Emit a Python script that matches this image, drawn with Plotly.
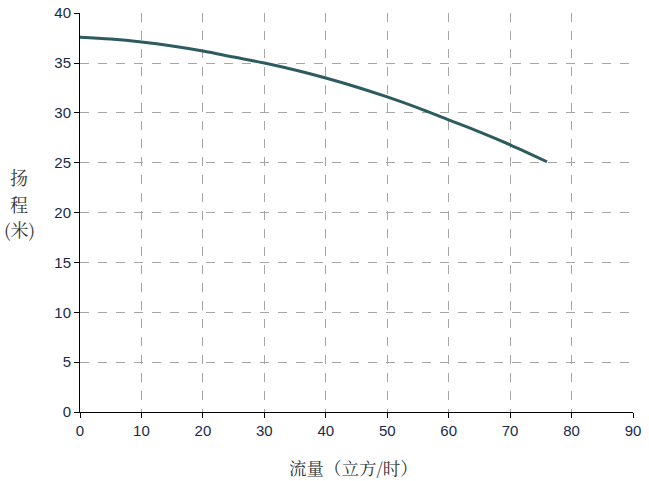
import plotly.graph_objects as go

flow = [0, 5, 10, 15, 20, 25, 30, 35, 40, 45, 50, 55, 60, 65, 70, 76]
head = [37.6, 37.4, 37.1, 36.7, 36.2, 35.6, 35.0, 34.3, 33.5, 32.6, 31.6, 30.5, 29.3, 28.1, 26.8, 25.1]

x_ticks = [0, 10, 20, 30, 40, 50, 60, 70, 80, 90]
y_ticks = [0, 5, 10, 15, 20, 25, 30, 35, 40]

x_title = "流量（立方/时）"
y_title_lines = ["扬", "程", "(米)"]

fig = go.Figure()
fig.add_trace(go.Scatter(x=flow, y=head, mode="lines",
                         line=dict(color="#2e5b5f", width=3, shape="spline"),
                         showlegend=False, hoverinfo="skip"))

grid = dict(showgrid=True, gridcolor="#a6a6a6", griddash="dash", gridwidth=1)
tickfont = dict(family="Liberation Sans, Arial, sans-serif", size=15, color="#1a2a4a")

fig.update_xaxes(range=[0, 90], tickvals=x_ticks, ticks="outside", ticklen=5,
                 tickcolor="black", showline=True, linecolor="black", linewidth=1,
                 zeroline=False, tickfont=tickfont, automargin=False, **grid)
fig.update_yaxes(range=[0, 40.02], tickvals=y_ticks, ticks="outside", ticklen=5,
                 tickcolor="black", showline=True, linecolor="black", linewidth=1,
                 zeroline=False, tickfont=tickfont, automargin=False, **grid)

cjk_x = dict(family="Noto Serif CJK SC, Noto Sans CJK SC, sans-serif", size=17.5, color="#333333")
cjk_y = dict(family="Noto Serif CJK SC, Noto Sans CJK SC, sans-serif", size=18, color="#333333")
fig.add_annotation(text=x_title, xref="paper", yref="paper", x=0.494, y=-0.138,
                   showarrow=False, font=cjk_x, xanchor="center", yanchor="middle")
for txt, yy in zip(y_title_lines, [0.589, 0.521, 0.459]):
    fig.add_annotation(text=txt, xref="paper", yref="paper", x=-0.11, y=yy,
                       showarrow=False, font=cjk_y, xanchor="center", yanchor="middle")

fig.update_layout(width=649, height=481, plot_bgcolor="white", paper_bgcolor="white",
                  margin=dict(l=80, r=16, t=13, b=69, autoexpand=False))
fig.write_html("out.html", config={"displayModeBar": False},
               post_script="document.body.style.margin='0';document.body.style.overflow='hidden';")
